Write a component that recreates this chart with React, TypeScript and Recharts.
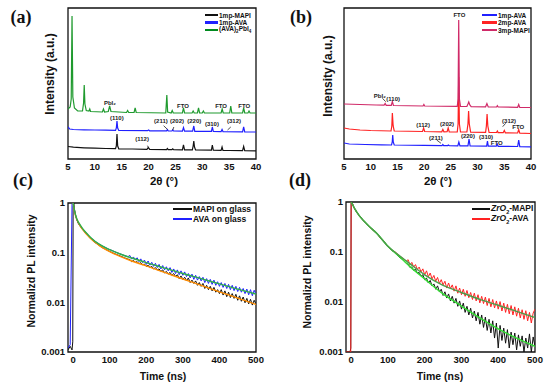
import React from "react";
import {
  LineChart,
  Line,
  XAxis,
  YAxis,
  ReferenceArea,
  ReferenceDot,
  ReferenceLine,
} from "recharts";

const FONT = "'Liberation Sans', Arial, sans-serif";

type Pt = [number, number];

// ---- XRD (a): 2theta vs intensity (arb. units) ----
const mapi1A: Pt[] = [
  [5, 12.5], [6, 11.8], [8, 11.2], [10, 10.8], [12, 10.5], [13.85, 10.3], [14.0, 13], [14.12, 25], [14.25, 13], [14.45, 10.2],
  [17, 10], [19.7, 9.7], [19.95, 11.5], [20.2, 9.6], [23.35, 9.4], [23.5, 10.5], [23.65, 9.4], [24.35, 9.3], [24.5, 10.2], [24.65, 9.3],
  [26.3, 9.2], [26.5, 14], [26.7, 9.1], [28.15, 9.1], [28.3, 13], [28.42, 18], [28.55, 12], [28.75, 9], [31.7, 8.8], [31.87, 14],
  [32.05, 8.8], [33.5, 8.7], [33.68, 12], [33.85, 8.6], [35, 8.5], [37.5, 8.4], [37.7, 12.5], [37.9, 8.3], [40, 8.2],
];
const ava1A: Pt[] = [
  [5, 32], [5.3, 30], [6, 29.5], [8, 29.2], [10, 29], [12, 28.8], [13.85, 28.6], [14.0, 31], [14.12, 38], [14.25, 31],
  [14.45, 28.5], [19.8, 28.3], [20, 29], [20.2, 28.2], [23.35, 28.1], [23.5, 29.3], [23.65, 28.1], [24.35, 28], [24.5, 29.2], [24.65, 28],
  [26.3, 27.9], [26.5, 31.5], [26.7, 27.8], [28.2, 27.8], [28.42, 33], [28.6, 27.7], [31.7, 27.6], [31.87, 32], [32.05, 27.5], [33.5, 27.4],
  [33.68, 29.5], [33.85, 27.4], [37.5, 27.2], [37.7, 32], [37.9, 27.1], [40, 27],
];
const ava2dA: Pt[] = [
  [5, 50], [5.4, 52], [5.6, 60], [5.75, 143], [5.9, 62], [6.2, 51], [6.8, 48], [7.7, 48], [7.9, 56], [8.02, 74],
  [8.15, 55], [8.4, 48.5], [8.9, 48], [9.05, 50], [9.2, 47.5], [11.4, 47], [11.6, 50], [11.8, 47], [12.5, 47.5], [12.75, 53],
  [13.0, 47.5], [15.9, 46.5], [16.1, 48.5], [16.3, 46.5], [17.3, 46.5], [17.5, 51], [17.7, 46.5], [23.2, 46], [23.4, 64], [23.55, 47],
  [24.2, 46], [24.4, 48.5], [24.6, 46], [26.3, 46], [26.5, 51], [26.7, 46], [28.1, 46], [28.3, 48], [28.5, 46], [29.1, 46],
  [29.3, 51], [29.5, 46], [30.0, 46], [30.2, 48], [30.4, 46], [33.5, 46], [33.7, 50], [33.9, 46], [35.1, 46], [35.3, 53],
  [35.5, 46], [37.5, 46], [37.7, 51], [37.9, 46], [38.5, 46], [38.7, 48], [38.9, 46], [40, 46],
];

// ---- XRD (b) ----
const mapi3B: Pt[] = [
  [5, 55], [8, 54.5], [11, 54], [12.5, 53.8], [12.7, 55.5], [12.9, 53.7], [13.85, 53.6], [14.05, 57.5], [14.25, 53.5], [19.8, 53],
  [19.95, 54.5], [20.1, 53], [26.2, 52.6], [26.35, 60], [26.47, 139], [26.6, 60], [26.8, 52.6], [28.0, 52.5], [28.2, 55], [28.35, 57],
  [28.55, 54], [28.8, 52.4], [31.5, 52.2], [31.75, 55.5], [32.0, 52.1], [33.55, 52], [33.7, 53.3], [33.85, 52], [37.5, 51.7], [37.7, 54.5],
  [37.9, 51.6], [40, 51.5],
];
const ava2B: Pt[] = [
  [5, 31], [6, 30], [8, 29], [10, 28.5], [13.8, 28], [13.95, 33], [14.05, 46], [14.2, 33], [14.4, 28], [19.7, 27.5],
  [19.9, 31], [20.1, 27.5], [23.3, 27.2], [23.5, 29.5], [23.7, 27.2], [24.3, 27.3], [24.5, 31], [24.7, 27.2], [26.2, 27], [26.35, 35],
  [26.47, 82], [26.6, 35], [26.8, 27], [28.0, 27], [28.2, 35], [28.32, 48], [28.45, 35], [28.7, 26.8], [31.5, 26.7], [31.65, 33],
  [31.78, 45], [31.92, 33], [32.15, 26.6], [33.55, 26.5], [33.7, 28], [33.85, 26.4], [34.8, 26.3], [35.0, 28.5], [35.2, 26.2], [37.5, 26],
  [37.7, 29.5], [37.9, 25.8], [40, 25.5],
];
const ava1B: Pt[] = [
  [5, 16], [6, 15], [9, 14.5], [12, 14.2], [13.9, 14], [14.03, 17], [14.12, 24], [14.22, 17], [14.4, 14], [20, 13.6],
  [23.35, 13.4], [23.5, 14.5], [23.65, 13.4], [24.4, 13.4], [24.55, 14], [24.7, 13.3], [26.3, 13.2], [26.5, 17], [26.7, 13.2], [28.2, 13.1],
  [28.4, 20], [28.6, 13], [31.7, 12.9], [31.85, 18], [32.0, 12.8], [33.5, 12.8], [33.68, 15], [33.85, 12.7], [37.5, 12.5], [37.7, 19],
  [37.9, 12.4], [40, 12.2],
];

const xrdMajor = [5, 10, 15, 20, 25, 30, 35, 40];
const xrdMinor = [7.5, 12.5, 17.5, 22.5, 27.5, 32.5, 37.5];
const yTicksA = [9, 27, 44, 62, 80, 98, 115, 133];
const yTicksB = [12, 33, 54, 76, 97, 119, 140];

type Note = { x: number; y: number; text: string };
const notesA: Note[] = [
  { x: 12.8, y: 56, text: "PbI₂" },
  { x: 26.4, y: 53, text: "FTO" },
  { x: 33.5, y: 53, text: "FTO" },
  { x: 37.8, y: 53, text: "FTO" },
  { x: 14.1, y: 41, text: "(110)" },
  { x: 22.3, y: 38, text: "(211)" },
  { x: 25.3, y: 38, text: "(202)" },
  { x: 28.5, y: 38, text: "(220)" },
  { x: 31.8, y: 35, text: "(310)" },
  { x: 35.9, y: 38, text: "(312)" },
  { x: 18.8, y: 20, text: "(112)" },
];
const notesB: Note[] = [
  { x: 26.6, y: 144, text: "FTO" },
  { x: 11.7, y: 63, text: "PbI₂" },
  { x: 14.2, y: 60, text: "(110)" },
  { x: 19.8, y: 34, text: "(112)" },
  { x: 24.3, y: 35, text: "(202)" },
  { x: 22.2, y: 21, text: "(211)" },
  { x: 28.2, y: 23, text: "(220)" },
  { x: 31.6, y: 22, text: "(310)" },
  { x: 33.6, y: 16, text: "FTO" },
  { x: 35.9, y: 38, text: "(312)" },
  { x: 37.6, y: 32, text: "FTO" },
];
type Arrow = [Pt, Pt];
const arrowsA: Arrow[] = [
  [[22.8, 33.3], [23.5, 29.7]],
  [[24.7, 32], [24.5, 29]],
  [[35.3, 32], [34.7, 29]],
  [[19.8, 13.3], [20.1, 10]],
];
const arrowsB: Arrow[] = [
  [[12.2, 60.7], [12.8, 57.3]],
  [[22.35, 19], [23.15, 15.7]],
  [[35.26, 35.7], [34.7, 32.3]],
];

// ---- PL decay (c), (d): time (ns) vs normalized intensity ----
const tGrid = [
  -14, -8, -3, -1, 0, 2, 4, 7, 10, 14,
  18, 22, 26, 30, 35, 40, 45, 50, 60, 70,
  80, 90, 100, 110, 120, 130, 140, 150, 155, 160,
  165, 170, 175, 180, 185, 190, 195, 200, 205, 210,
  215, 220, 225, 230, 235, 240, 245, 250, 255, 260,
  265, 270, 275, 280, 285, 290, 295, 300, 305, 310,
  315, 320, 325, 330, 335, 340, 345, 350, 355, 360,
  365, 370, 375, 380, 385, 390, 395, 400, 405, 410,
  415, 420, 425, 430, 435, 440, 445, 450, 455, 460,
  465, 470, 475, 480, 485, 490, 495, 500,
];
const mapiGlass = [
  0.0011, 0.0013, 0.0011, 0.0016, 0.85, 1.0, 0.72, 0.55, 0.46, 0.39,
  0.35, 0.32, 0.29, 0.27, 0.245, 0.222, 0.2, 0.186, 0.16, 0.142,
  0.126, 0.116, 0.106, 0.098, 0.091, 0.085, 0.079, 0.074, 0.073, 0.066,
  0.07, 0.064, 0.066, 0.06, 0.063, 0.057, 0.059, 0.053, 0.056, 0.05,
  0.053, 0.047, 0.05, 0.045, 0.047, 0.042, 0.045, 0.039, 0.042, 0.037,
  0.04, 0.035, 0.038, 0.033, 0.036, 0.03, 0.034, 0.029, 0.032, 0.027,
  0.031, 0.025, 0.028, 0.024, 0.027, 0.022, 0.025, 0.021, 0.024, 0.019,
  0.022, 0.018, 0.021, 0.017, 0.02, 0.016, 0.018, 0.015, 0.018, 0.014,
  0.017, 0.013, 0.016, 0.0125, 0.015, 0.012, 0.0145, 0.011, 0.0135, 0.0105,
  0.0128, 0.0098, 0.012, 0.0093, 0.0115, 0.0088, 0.011, 0.0092,
];
const avaGlass = [
  0.0012, 0.0014, 0.95, 1.0, 0.93, 0.84, 0.7, 0.56, 0.47, 0.4,
  0.36, 0.33, 0.3, 0.28, 0.255, 0.232, 0.21, 0.195, 0.17, 0.15,
  0.136, 0.125, 0.115, 0.108, 0.1, 0.094, 0.088, 0.083, 0.088, 0.074,
  0.082, 0.071, 0.079, 0.066, 0.075, 0.063, 0.071, 0.058, 0.068, 0.056,
  0.064, 0.053, 0.061, 0.05, 0.058, 0.047, 0.055, 0.045, 0.052, 0.043,
  0.05, 0.04, 0.047, 0.038, 0.045, 0.036, 0.043, 0.035, 0.041, 0.033,
  0.038, 0.031, 0.037, 0.029, 0.035, 0.028, 0.033, 0.027, 0.032, 0.025,
  0.03, 0.024, 0.029, 0.023, 0.028, 0.022, 0.026, 0.021, 0.025, 0.02,
  0.024, 0.019, 0.023, 0.018, 0.022, 0.0172, 0.021, 0.0165, 0.02, 0.016,
  0.019, 0.015, 0.0185, 0.0142, 0.018, 0.0136, 0.0175, 0.0145,
];
const mapiZr = [
  0.001, 0.001, 0.001, 0.0012, 0.95, 1.0, 0.92, 0.8, 0.72, 0.65,
  0.59, 0.54, 0.5, 0.455, 0.415, 0.38, 0.35, 0.32, 0.275, 0.235,
  0.19, 0.16, 0.13, 0.108, 0.097, 0.08, 0.071, 0.059, 0.057, 0.049,
  0.05, 0.043, 0.045, 0.038, 0.039, 0.033, 0.035, 0.028, 0.03, 0.024,
  0.027, 0.021, 0.023, 0.018, 0.021, 0.016, 0.018, 0.0135, 0.016, 0.012,
  0.0145, 0.0105, 0.013, 0.0095, 0.0118, 0.0082, 0.0105, 0.0072, 0.0095, 0.0062,
  0.0082, 0.0055, 0.0075, 0.0048, 0.0066, 0.0042, 0.0062, 0.0036, 0.0055, 0.0031,
  0.005, 0.0027, 0.0045, 0.0024, 0.0042, 0.0019, 0.0038, 0.0012, 0.0034, 0.0017,
  0.003, 0.0015, 0.0028, 0.0012, 0.0025, 0.0014, 0.0024, 0.0011, 0.0022, 0.0013,
  0.0021, 0.001, 0.0019, 0.0012, 0.0023, 0.001, 0.002, 0.0013,
];
const avaZr = [
  0.001, 0.001, 0.001, 0.001, 1.0, 0.97, 0.9, 0.79, 0.71, 0.64,
  0.58, 0.535, 0.49, 0.45, 0.41, 0.375, 0.345, 0.315, 0.27, 0.232,
  0.19, 0.158, 0.13, 0.11, 0.1, 0.086, 0.075, 0.066, 0.07, 0.055,
  0.062, 0.05, 0.056, 0.045, 0.05, 0.04, 0.046, 0.035, 0.042, 0.032,
  0.038, 0.029, 0.034, 0.026, 0.031, 0.0235, 0.028, 0.022, 0.026, 0.019,
  0.024, 0.0185, 0.022, 0.0165, 0.021, 0.015, 0.019, 0.014, 0.018, 0.013,
  0.017, 0.0122, 0.0155, 0.0112, 0.015, 0.0105, 0.014, 0.0096, 0.013, 0.0093,
  0.0125, 0.0085, 0.0118, 0.008, 0.0112, 0.0076, 0.0105, 0.0072, 0.0102, 0.0066,
  0.0095, 0.0062, 0.009, 0.0058, 0.0085, 0.0055, 0.008, 0.0052, 0.0075, 0.0048,
  0.007, 0.0045, 0.0067, 0.0042, 0.0062, 0.0038, 0.006, 0.0072,
];
const fitT = [0, 5, 10, 20, 30, 40, 50, 70, 100, 130, 160, 200, 250, 300, 350, 400, 450, 500];
const fitMapiGlass = [1.0, 0.62, 0.47, 0.34, 0.27, 0.222, 0.186, 0.142, 0.105, 0.083, 0.068, 0.054, 0.04, 0.0295, 0.022, 0.0163, 0.0122, 0.0091];
const fitAvaGlass = [1.0, 0.64, 0.48, 0.355, 0.28, 0.232, 0.196, 0.15, 0.115, 0.093, 0.078, 0.063, 0.049, 0.038, 0.03, 0.0235, 0.0185, 0.0147];
const fitMapiZr = [1.0, 0.85, 0.73, 0.56, 0.455, 0.38, 0.32, 0.235, 0.13, 0.082, 0.051, 0.029, 0.0145, 0.0083, 0.0048, 0.0029, 0.0019, 0.0013];
const fitAvaZr = [1.0, 0.85, 0.73, 0.56, 0.455, 0.38, 0.32, 0.235, 0.13, 0.086, 0.058, 0.035, 0.0215, 0.0155, 0.0113, 0.0086, 0.0065, 0.0049];

const timeMajor = [0, 100, 200, 300, 400, 500];
const timeMinor = [50, 150, 250, 350, 450];
const logMajor = [0.001, 0.01, 0.1, 1];
const logMinor = [
  0.002, 0.003, 0.004, 0.005, 0.006, 0.007, 0.008, 0.009,
  0.02, 0.03, 0.04, 0.05, 0.06, 0.07, 0.08, 0.09,
  0.2, 0.3, 0.4, 0.5, 0.6, 0.7, 0.8, 0.9,
];

const toXY = (pts: Pt[]) => pts.map(([x, y]) => ({ x, y }));
const toTV = (t: number[], v: number[]) => t.map((tt, i) => ({ t: tt, v: v[i] }));

type Series = { name: string; color: string; data: { [k: string]: number }[]; width?: number; smooth?: boolean };

const tickFont = { fontSize: 9.5, fontWeight: 700, fill: "#111", fontFamily: FONT };

type XrdProps = {
  left: number;
  marginLeft: number;
  series: Series[];
  notes: Note[];
  arrows: Arrow[];
  yTicks: number[];
};

const XrdPanel = ({ left, marginLeft, series, notes, arrows, yTicks }: XrdProps) => (
  <div style={{ position: "absolute", left, top: 0 }}>
    <LineChart width={275} height={195} margin={{ top: 8, right: 19, bottom: 16, left: marginLeft }} style={{ fontFamily: FONT }}>
      <XAxis xAxisId="lab" type="number" dataKey="x" domain={[5, 40]} allowDataOverflow ticks={xrdMajor} interval={0}
        tickLine={false} axisLine={false} tickSize={0} tickMargin={4} height={20} tick={tickFont} />
      <XAxis xAxisId="maj" type="number" domain={[5, 40]} allowDataOverflow ticks={xrdMajor} interval={0}
        mirror tick={false} axisLine={false} tickSize={4} stroke="#111" />
      <XAxis xAxisId="min" type="number" domain={[5, 40]} allowDataOverflow ticks={xrdMinor} interval={0}
        mirror tick={false} axisLine={false} tickSize={2} stroke="#111" />
      <YAxis yAxisId="v" type="number" domain={[0, 151]} allowDataOverflow ticks={yTicks} interval={0}
        mirror tick={false} axisLine={false} tickSize={4} width={0} stroke="#111" />
      <ReferenceArea xAxisId="lab" yAxisId="v" x1={5} x2={40} y1={0} y2={151} fill="none" stroke="#111" strokeWidth={1.3} ifOverflow="visible" />
      {series.map((s) => (
        <Line key={s.name} data={s.data} dataKey="y" xAxisId="lab" yAxisId="v" type="linear" stroke={s.color}
          strokeWidth={1.2} dot={false} isAnimationActive={false} />
      ))}
      {arrows.map((a, i) => (
        <ReferenceLine key={"ar" + i} xAxisId="lab" yAxisId="v" segment={[{ x: a[0][0], y: a[0][1] }, { x: a[1][0], y: a[1][1] }]}
          stroke="#222" strokeWidth={0.8} ifOverflow="visible" />
      ))}
      {notes.map((n, i) => (
        <ReferenceDot key={"n" + i} xAxisId="lab" yAxisId="v" x={n.x} y={n.y} r={0} fill="none" stroke="none"
          label={{ value: n.text, position: "center", fontSize: 6, fontWeight: 700, fill: "#222", fontFamily: FONT }} />
      ))}
    </LineChart>
  </div>
);

type PlProps = {
  left: number;
  top: number;
  marginLeft: number;
  marginRight: number;
  marginTop: number;
  series: Series[];
};

const PlPanel = ({ left, top, marginLeft, marginRight, marginTop, series }: PlProps) => (
  <div style={{ position: "absolute", left, top }}>
    <LineChart width={275} height={195} margin={{ top: marginTop, right: marginRight, bottom: 18, left: marginLeft }} style={{ fontFamily: FONT }}>
      <XAxis xAxisId="lab" type="number" dataKey="t" domain={[-14, 500]} allowDataOverflow ticks={timeMajor} interval={0}
        tickLine={false} axisLine={false} tickSize={0} tickMargin={4} height={20} tick={tickFont} />
      <XAxis xAxisId="maj" type="number" domain={[-14, 500]} allowDataOverflow ticks={timeMajor} interval={0}
        mirror tick={false} axisLine={false} tickSize={4} stroke="#111" />
      <XAxis xAxisId="min" type="number" domain={[-14, 500]} allowDataOverflow ticks={timeMinor} interval={0}
        mirror tick={false} axisLine={false} tickSize={2} stroke="#111" />
      <YAxis yAxisId="lab" type="number" scale="log" domain={[0.001, 1]} allowDataOverflow ticks={logMajor} interval={0}
        tickFormatter={(v: number) => String(v)} tickLine={false} axisLine={false} tickSize={0} tickMargin={3} width={30} tick={tickFont} />
      <YAxis yAxisId="maj" type="number" scale="log" domain={[0.001, 1]} allowDataOverflow ticks={logMajor} interval={0}
        mirror tick={false} axisLine={false} tickSize={4} width={0} stroke="#111" />
      <YAxis yAxisId="min" type="number" scale="log" domain={[0.001, 1]} allowDataOverflow ticks={logMinor} interval={0}
        mirror tick={false} axisLine={false} tickSize={2} width={0} stroke="#111" />
      <ReferenceArea xAxisId="lab" yAxisId="lab" x1={-14} x2={500} y1={0.001} y2={1} fill="none" stroke="#111" strokeWidth={1.3} ifOverflow="visible" />
      {series.map((s) => (
        <Line key={s.name} data={s.data} dataKey="v" xAxisId="lab" yAxisId="lab" type={s.smooth ? "monotone" : "linear"}
          stroke={s.color} strokeWidth={s.width ?? 1} dot={false} isAnimationActive={false} />
      ))}
    </LineChart>
  </div>
);

type LegendItem = { color: string; label: React.ReactNode };
const LegendBox = ({ x, y, gap, lineLen, size, items }: { x: number; y: number; gap: number; lineLen: number; size: number; items: LegendItem[] }) => (
  <>
    {items.map((it, i) => (
      <div key={i} style={{ position: "absolute", left: x, top: y + i * gap - 5, height: 10, display: "flex", alignItems: "center",
        fontFamily: FONT, fontWeight: 700, fontSize: size, color: "#111", whiteSpace: "nowrap" }}>
        <span style={{ display: "inline-block", width: lineLen, height: 2.5, background: it.color, marginRight: 1 }} />
        <span>{it.label}</span>
      </div>
    ))}
  </>
);

const Txt = ({ x, y, size, rotate, serif, children }: { x: number; y: number; size: number; rotate?: boolean; serif?: boolean; children: React.ReactNode }) => (
  <div style={{ position: "absolute", left: x, top: y, transform: `translate(-50%, -50%)${rotate ? " rotate(-90deg)" : ""}`,
    fontFamily: serif ? "'Liberation Serif', 'Times New Roman', serif" : FONT, fontWeight: 700, fontSize: size,
    lineHeight: 1, whiteSpace: "nowrap", color: "#111" }}>
    {children}
  </div>
);

const C_BLACK = "#111111";
const C_BLUE = "#2020ff";
const C_GREEN = "#1f9a2e";
const C_RED = "#ff2222";
const C_PINK = "#d02a68";

export default function App() {
  const seriesA: Series[] = [
    { name: "green", color: C_GREEN, data: toXY(ava2dA) },
    { name: "blue", color: C_BLUE, data: toXY(ava1A) },
    { name: "black", color: C_BLACK, data: toXY(mapi1A) },
  ];
  const seriesB: Series[] = [
    { name: "blue", color: C_BLUE, data: toXY(ava1B) },
    { name: "red", color: C_RED, data: toXY(ava2B) },
    { name: "pink", color: C_PINK, data: toXY(mapi3B) },
  ];
  const seriesC: Series[] = [
    { name: "mapi", color: C_BLACK, data: toTV(tGrid, mapiGlass) },
    { name: "ava", color: C_BLUE, data: toTV(tGrid, avaGlass) },
    { name: "fitM", color: "#ff8c00", data: toTV(fitT, fitMapiGlass), width: 1.4, smooth: true },
    { name: "fitA", color: "#2fb04a", data: toTV(fitT, fitAvaGlass), width: 1.4, smooth: true },
  ];
  const seriesD: Series[] = [
    { name: "mapi", color: C_BLACK, data: toTV(tGrid, mapiZr) },
    { name: "ava", color: C_RED, data: toTV(tGrid, avaZr) },
    { name: "fitM", color: "#33dd33", data: toTV(fitT, fitMapiZr), width: 1.4, smooth: true },
    { name: "fitA", color: "#4a9e4a", data: toTV(fitT, fitAvaZr), width: 1.4, smooth: true },
  ];
  const zr = (s: string) => (
    <span><i>ZrO</i><sub style={{ fontSize: "0.65em" }}>2</sub>-{s}</span>
  );
  return (
    <div style={{ position: "absolute", left: 0, top: 0, width: 550, height: 390, background: "#fff", overflow: "hidden" }}>
      <XrdPanel left={0} marginLeft={68} series={seriesA} notes={notesA} arrows={arrowsA} yTicks={yTicksA} />
      <XrdPanel left={275} marginLeft={69} series={seriesB} notes={notesB} arrows={arrowsB} yTicks={yTicksB} />
      <PlPanel left={0} top={195} marginLeft={38} marginRight={19} marginTop={8} series={seriesC} />
      <PlPanel left={275} top={195} marginLeft={41} marginRight={15} marginTop={7} series={seriesD} />

      <LegendBox x={205} y={15} gap={7.5} lineLen={13} size={6.5} items={[
        { color: C_BLACK, label: "1mp-MAPI" },
        { color: C_BLUE, label: "1mp-AVA" },
        { color: "#008a1e", label: <span>(AVA)<sub style={{ fontSize: "0.7em" }}>2</sub>PbI<sub style={{ fontSize: "0.7em" }}>4</sub></span> },
      ]} />
      <LegendBox x={482} y={15} gap={7.5} lineLen={15} size={6.5} items={[
        { color: C_BLUE, label: "1mp-AVA" },
        { color: C_RED, label: "2mp-AVA" },
        { color: C_PINK, label: "3mp-MAPI" },
      ]} />
      <LegendBox x={173} y={209} gap={10} lineLen={19} size={8.5} items={[
        { color: C_BLACK, label: "MAPI on glass" },
        { color: C_BLUE, label: "AVA on glass" },
      ]} />
      <LegendBox x={472} y={209} gap={10} lineLen={18} size={8.5} items={[
        { color: C_BLACK, label: zr("MAPI") },
        { color: C_RED, label: zr("AVA") },
      ]} />

      <Txt x={21} y={17} size={18} serif>(a)</Txt>
      <Txt x={301} y={17} size={18} serif>(b)</Txt>
      <Txt x={23} y={180} size={18} serif>(c)</Txt>
      <Txt x={300} y={180} size={18} serif>(d)</Txt>

      <Txt x={50} y={74} size={12} rotate>Intensity (a.u.)</Txt>
      <Txt x={328} y={76} size={12} rotate>Intensity (a.u.)</Txt>
      <Txt x={164} y={182} size={11.5}>2θ (°)</Txt>
      <Txt x={438} y={182} size={11.5}>2θ (°)</Txt>

      <Txt x={31} y={271} size={10.5} rotate>Normalizd PL intensity</Txt>
      <Txt x={307} y={272} size={10.5} rotate>Normalizd PL intensity</Txt>
      <Txt x={163} y={376} size={10.5}>Time (ns)</Txt>
      <Txt x={440} y={376} size={10.5}>Time (ns)</Txt>
    </div>
  );
}
